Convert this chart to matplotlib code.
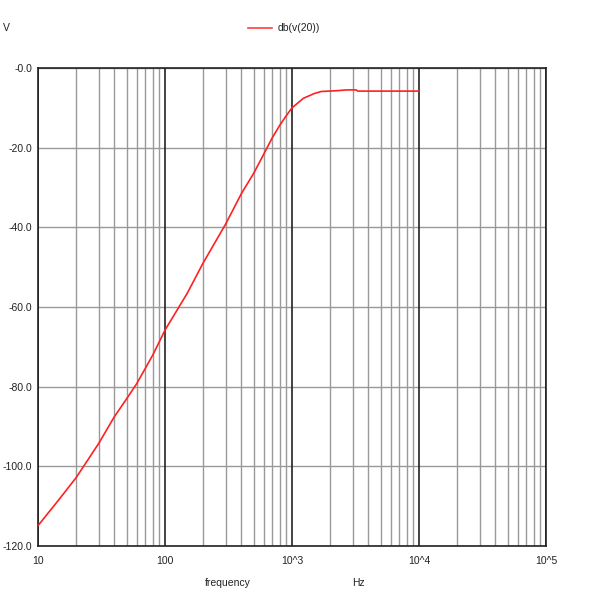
import matplotlib
matplotlib.use("Agg")
import matplotlib.pyplot as plt
from matplotlib.ticker import FixedLocator, NullFormatter

plt.rcParams['font.family'] = ['Liberation Sans', 'DejaVu Sans']

freq = [10, 15, 20, 30, 40, 50, 60, 70, 80, 90, 100, 150, 200, 300, 400, 500,
        600, 700, 800, 900, 1000, 1230, 1500, 1700, 2250, 2700, 3200, 3300, 10000]
db_v20 = [-114.9, -107.9, -102.8, -94.3, -87.5, -83.0, -79.2, -75.4, -72.1,
          -68.8, -65.8, -56.5, -48.9, -39.2, -31.5, -26.4, -21.6, -17.5, -14.4,
          -12.0, -10.0, -7.6, -6.4, -5.9, -5.7, -5.5, -5.5, -5.8, -5.8]

y_ticks = [0, -20, -40, -60, -80, -100, -120]
y_tick_labels = ["-0.0", "-20.0", "-40.0", "-60.0", "-80.0", "-100.0", "-120.0"]
x_ticks = [10, 100, 1000, 10000, 100000]
x_tick_labels = ["10", "100", "10^3", "10^4", "10^5"]

fig = plt.figure(figsize=(6, 6), dpi=100)
ax = fig.add_axes([38/600, 1 - 546/600, (546-38)/600, (546-68)/600])
ax.set_xscale('log')
ax.set_xlim(10, 100000)
ax.set_ylim(-120, 0)

# grid
minor = [m * 10**d for d in range(1, 5) for m in range(2, 10)]
for v in minor:
    ax.axvline(v, color='#999999', lw=1.0, zorder=1)
for v in x_ticks:
    ax.axvline(v, color='#222222', lw=1.2, zorder=1.5)
for v in y_ticks:
    ax.axhline(v, color='#999999', lw=1.0, zorder=1)

ax.plot(freq, db_v20, color='#ff2020', lw=1.2, zorder=3)

ax.xaxis.set_major_locator(FixedLocator(x_ticks))
ax.set_xticklabels(x_tick_labels)
ax.xaxis.set_minor_locator(FixedLocator([]))
ax.xaxis.set_minor_formatter(NullFormatter())
ax.set_yticks(y_ticks)
ax.set_yticklabels(y_tick_labels)
ax.tick_params(axis='y', length=0, labelsize=7.5, colors='#222222', pad=4)
ax.tick_params(axis='x', length=0, labelsize=7.5, colors='#222222', pad=7)

for s in ax.spines.values():
    s.set_color('#222222')
    s.set_linewidth(1.2)

fig.text(3/600, 1 - 28/600, "V", fontsize=7.5, va='center', ha='left', color='#222222')
fig.text(228/600, 1 - 583/600, "frequency", fontsize=7.5, va='center', ha='center', color='#222222')
fig.text(358/600, 1 - 583/600, "Hz", fontsize=7.5, va='center', ha='center', color='#222222')
fig.add_artist(plt.Line2D([248/600, 272/600], [1 - 28/600, 1 - 28/600], color='#ff4040', lw=1.2))
fig.text(278/600, 1 - 28/600, "db(v(20))", fontsize=7.5, va='center', ha='left', color='#222222')

fig.savefig("out.png", dpi=100, facecolor='white')
